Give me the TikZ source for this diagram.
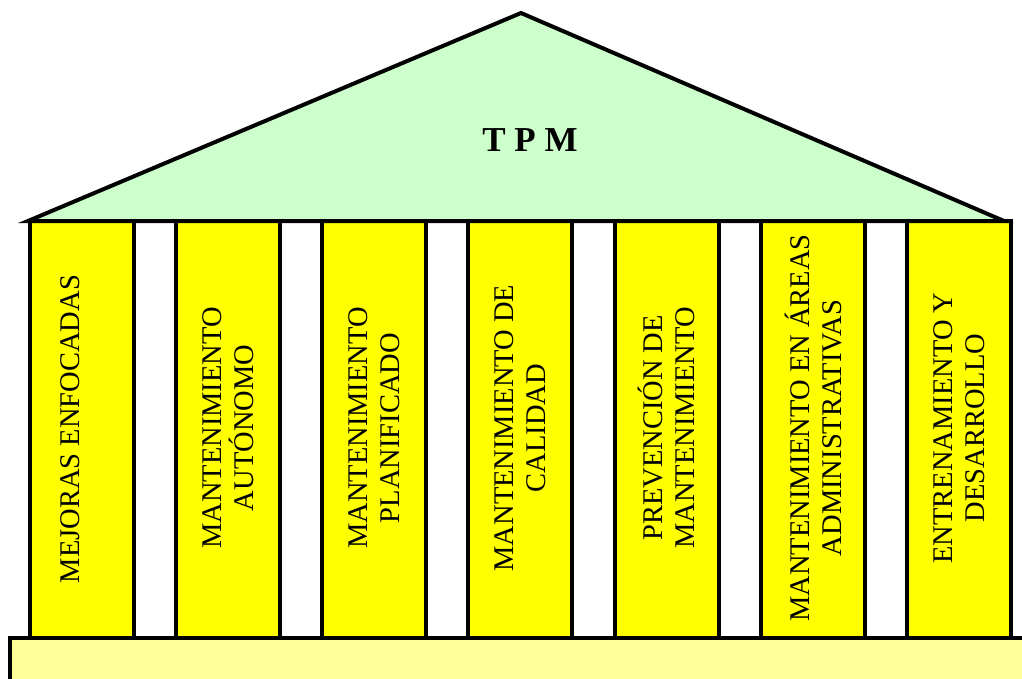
\documentclass[tikz,border=0pt]{standalone}
\usepackage{fontspec}
\setmainfont{Liberation Serif}
\definecolor{roofgreen}{HTML}{CCFFCC}
\definecolor{pillaryellow}{HTML}{FFFF00}
\definecolor{baseyellow}{HTML}{FFFF99}
\begin{document}
\begin{tikzpicture}[x=1pt,y=-1pt,
  outline/.style={draw=black,line width=4pt,line join=miter},
  pillar/.style={outline,fill=pillaryellow},
  pillartext/.style={rotate=90,align=center,inner sep=0pt,
    font=\fontsize{28.5}{32}\selectfont},
  rooftext/.style={font=\fontsize{35}{35}\selectfont\bfseries,inner sep=0pt}]
\useasboundingbox (0,0) rectangle (1022,678);
\begin{scope}
  \clip (0,0) rectangle (1022,678);
  % seven pillars
  \foreach \i in {0,...,6}
    \draw[pillar] ({29.5+146.33*\i},221) rectangle ++(104,416.5);
  % roof
  \draw[outline,fill=roofgreen] (28,221) -- (521,13) -- (1004,221) -- cycle;
  % foundation
  \draw[outline,fill=baseyellow] (9.5,637.5) rectangle (1040,700);
\end{scope}

\node[rooftext] (tpm) at (530,140) {T P M};

\node[pillartext] (p1) at (70,429) {MEJORAS ENFOCADAS};
\node[pillartext] (p2) at ({81.5+146.33},428) {MANTENIMIENTO\\AUTÓNOMO};
\node[pillartext] (p3) at ({81.5+2*146.33},428) {MANTENIMIENTO\\PLANIFICADO};
\node[pillartext] (p4) at ({81.5+3*146.33},428) {MANTENIMIENTO DE\\CALIDAD};
\node[pillartext] (p5) at ({81.5+4*146.33},428) {PREVENCIÓN DE\\MANTENIMIENTO};
\node[pillartext] (p6) at ({81.5+5*146.33},428) {MANTENIMIENTO EN ÁREAS\\ADMINISTRATIVAS};
\node[pillartext] (p7) at ({81.5+6*146.33},428) {ENTRENAMIENTO Y\\DESARROLLO};
\end{tikzpicture}
\end{document}
